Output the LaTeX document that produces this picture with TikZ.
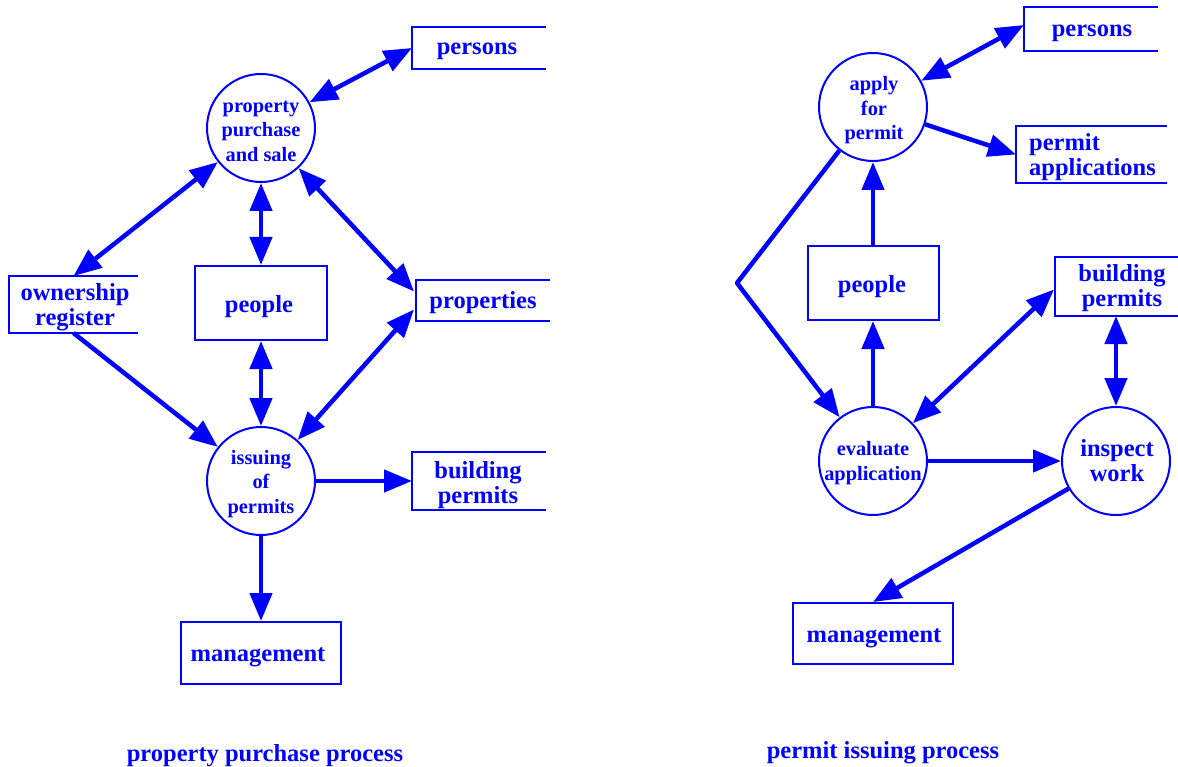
\documentclass[tikz,border=0pt]{standalone}
\usepackage{fontspec}
\setmainfont{Liberation Serif}
\usetikzlibrary{arrows.meta,calc}
\tikzset{
 bigf/.style={font=\fontsize{24.5}{25}\selectfont\bfseries},
 smallf/.style={font=\fontsize{20.4}{24.5}\selectfont\bfseries},
 proc/.style={circle, draw=blue, line width=2pt, minimum size=108pt, inner sep=0pt},
 box/.style={rectangle, draw=blue, line width=2pt, inner sep=0pt},
 store/.style={rectangle, inner sep=0pt, outer sep=1pt},
 storeline/.style={draw=blue, line width=2pt},
 stxt/.style={text=blue, bigf, align=center, inner sep=0pt},
 ctxt/.style={text=blue, smallf, align=center, inner sep=0pt},
 flow/.style={draw=blue, line width=4.5pt, -{Triangle[length=28pt,width=22pt]}},
 bflow/.style={draw=blue, line width=4.5pt, {Triangle[length=28pt,width=22pt]}-{Triangle[length=28pt,width=22pt]}},
}
\begin{document}
\begin{tikzpicture}[x=1pt,y=-1pt]
\useasboundingbox (0,0) rectangle (1178,767);
% ---------- left diagram ----------
\node[proc] (pps) at (261,128) {};
\node[ctxt] (ppst) at (261,131) {property\\purchase\\and sale};
\node[proc] (iss) at (261,481) {};
\node[ctxt] (isst) at (261,484) {issuing\\of\\permits};
\node[box, minimum width=132pt, minimum height=74pt] (peopleL) at (261,303) {};
\node[stxt] (peopleLt) at (259,307) {people};
\node[box, minimum width=160pt, minimum height=62pt] (mgmtL) at (261,653) {};
\node[stxt] (mgmtLt) at (258,657) {management};
% stores
\node[store, minimum width=132pt, minimum height=40pt] (perL) at (479,48) {};
\draw[storeline] (perL.north east) -- (perL.north west) -- (perL.south west) -- (perL.south east);
\node[stxt] (perLt) at (477,51) {persons};
\node[store, minimum width=127pt, minimum height=55pt] (own) at (73.5,304.5) {};
\draw[storeline] (own.north east) -- (own.north west) -- (own.south west) -- (own.south east);
\node[stxt] (ownt) at (75,307.5) {ownership\\register};
\node[store, minimum width=132pt, minimum height=39pt] (propL) at (483,300.5) {};
\draw[storeline] (propL.north east) -- (propL.north west) -- (propL.south west) -- (propL.south east);
\node[stxt] (propLt) at (483,303) {properties};
\node[store, minimum width=132pt, minimum height=56pt] (bpL) at (479,481) {};
\draw[storeline] (bpL.north east) -- (bpL.north west) -- (bpL.south west) -- (bpL.south east);
\node[stxt] (bpLt) at (478,485) {building\\permits};
% connectors
\draw[bflow] (perL.west) -- (pps);
\draw[bflow] (pps) -- (own.north);
\draw[bflow] (pps) -- (peopleL);
\draw[bflow] (pps) -- ($(propL.west)+(-2,-9)$);
\draw[flow] (own.south) -- (iss);
\draw[bflow] (peopleL) -- (iss);
\draw[bflow] (iss) -- ($(propL.west)+(-2,9)$);
\draw[flow] (iss) -- (iss -| bpL.west);
\draw[flow] (iss) -- (mgmtL);
\node[stxt] (capL) at (265,756) {property purchase process};
% ---------- right diagram ----------
\node[proc] (apply) at (873,107) {};
\node[ctxt] (applyt) at (874,110.5) {apply\\for\\permit};
\node[proc] (eval) at (873,461) {};
\node[ctxt] (evalt) at (873,463) {evaluate\\application};
\node[proc] (insp) at (1116,461) {};
\node[stxt] (inspt) at (1117,461) {inspect\\work};
\node[box, minimum width=131pt, minimum height=74pt] (peopleR) at (873,283) {};
\node[stxt] (peopleRt) at (872,287) {people};
\node[box, minimum width=160pt, minimum height=61pt] (mgmtR) at (873,633.5) {};
\node[stxt] (mgmtRt) at (874,638.5) {management};
\node[store, minimum width=132pt, minimum height=42pt] (perR) at (1091,29) {};
\draw[storeline] (perR.north east) -- (perR.north west) -- (perR.south west) -- (perR.south east);
\node[stxt] (perRt) at (1092,33) {persons};
\node[store, minimum width=149pt, minimum height=55pt] (paR) at (1091.5,154.5) {};
\draw[storeline] (paR.north east) -- (paR.north west) -- (paR.south west) -- (paR.south east);
\node[stxt, align=left, anchor=west] (paRt) at (1029,157.5) {permit\\applications};
\node[store, minimum width=122pt, minimum height=57pt] (bpR) at (1117,286.5) {};
\draw[storeline] (bpR.north east) -- (bpR.north west) -- (bpR.south west) -- (bpR.south east);
\node[stxt] (bpRt) at (1122,288) {building\\permits};
\coordinate (bend) at (737,283);
\draw[bflow] ($(perR.west)+(0,-4)$) -- (apply);
\draw[flow] (apply) -- (paR.west);
\draw[flow] (peopleR) -- (apply);
\draw[flow, line join=round] (apply) -- (bend) -- (eval);
\draw[flow] (eval) -- (peopleR);
\draw[bflow] (eval) -- ($(bpR.west)+(-1,3)$);
\draw[bflow] (insp) -- (insp |- bpR.south);
\draw[flow] (eval) -- (insp);
\draw[flow] (insp) -- (mgmtR.north);
\node[stxt] (capR) at (883,753) {permit issuing process};
\end{tikzpicture}
\end{document}
